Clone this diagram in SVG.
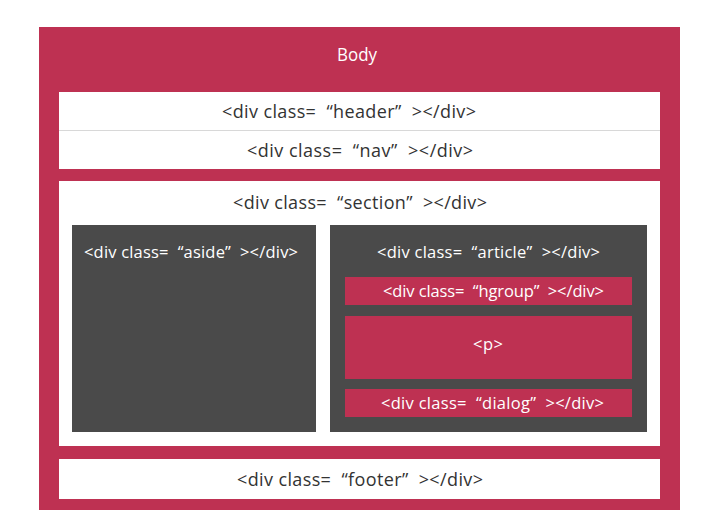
<svg xmlns="http://www.w3.org/2000/svg" width="705" height="527" viewBox="0 0 705 527">
<style>
.red{fill:#BE3152}
.white{fill:#FFFFFF}
.dark{fill:#4A4A4A}
text{font-family:"Open Sans","Liberation Sans",sans-serif;font-size:18px;text-anchor:middle;white-space:pre}
.tw{fill:#FFFFFF}
.td{fill:#333333}
.s{font-size:16.5px}
</style>
<rect width="705" height="527" fill="#FFFFFF"/>
<g id="body">
<rect class="red" x="39" y="27" width="641" height="483"/>
<text class="tw" x="357" y="61" textLength="40" lengthAdjust="spacingAndGlyphs">Body</text>
</g>
<g id="header">
<rect class="white" x="59" y="92" width="601" height="38"/>
<text class="td" x="349" y="118" textLength="254" xml:space="preserve">&lt;div class=  “header”  &gt;&lt;/div&gt;</text>
</g>
<g id="nav">
<rect class="white" x="59" y="131" width="601" height="38"/>
<line x1="59" y1="130.5" x2="660" y2="130.5" stroke="#D8D8D8" stroke-width="1"/>
<text class="td" x="360" y="157" textLength="226" xml:space="preserve">&lt;div class=  “nav”  &gt;&lt;/div&gt;</text>
</g>
<g id="section">
<rect class="white" x="59" y="181" width="601" height="265"/>
<text class="td" x="360" y="209" textLength="254" xml:space="preserve">&lt;div class=  “section”  &gt;&lt;/div&gt;</text>
</g>
<g id="aside">
<rect class="dark" x="72" y="225" width="244" height="207"/>
<text class="tw s" x="84" y="258" style="text-anchor:start" textLength="214" xml:space="preserve">&lt;div class=  “aside”  &gt;&lt;/div&gt;</text>
</g>
<g id="article">
<rect class="dark" x="330" y="225" width="317" height="207"/>
<text class="tw s" x="488.5" y="258" textLength="223" xml:space="preserve">&lt;div class=  “article”  &gt;&lt;/div&gt;</text>
</g>
<g id="hgroup">
<rect class="red" x="345" y="277" width="287" height="28"/>
<text class="tw s" x="493.5" y="297" textLength="221" xml:space="preserve">&lt;div class=  “hgroup”  &gt;&lt;/div&gt;</text>
</g>
<g id="p">
<rect class="red" x="345" y="316" width="287" height="63"/>
<text class="tw s" x="488" y="350" textLength="30">&lt;p&gt;</text>
</g>
<g id="dialog">
<rect class="red" x="345" y="389" width="287" height="28"/>
<text class="tw s" x="492.5" y="409" textLength="223" xml:space="preserve">&lt;div class=  “dialog”  &gt;&lt;/div&gt;</text>
</g>
<g id="footer">
<rect class="white" x="59" y="459" width="601" height="40"/>
<text class="td" x="360" y="486" textLength="246" xml:space="preserve">&lt;div class=  “footer”  &gt;&lt;/div&gt;</text>
</g>
<g id="connectors"/>
</svg>
